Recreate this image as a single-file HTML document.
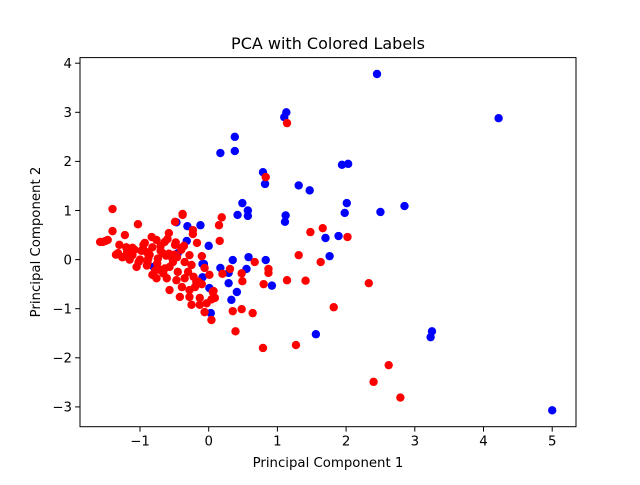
<!DOCTYPE html>
<html><head><meta charset="utf-8"><style>
body{margin:0;background:#fff}
svg text{font-family:"DejaVu Sans","Liberation Sans",sans-serif;fill:#000}
</style></head><body>
<svg id="chart" width="640" height="480" viewBox="0 0 640 480" xmlns="http://www.w3.org/2000/svg">
<rect width="640" height="480" fill="#fff"/>
<g id="points"></g>
<g id="axes"></g>
<text x="328" y="49" font-size="16" text-anchor="middle">PCA with Colored Labels</text>
<text x="328" y="467" font-size="13.3" text-anchor="middle">Principal Component 1</text>
<text x="0" y="0" font-size="13.3" text-anchor="middle" transform="translate(40,242) rotate(-90)">Principal Component 2</text>
</svg>
<script>
const xTicks=[-1,0,1,2,3,4,5];
const yTicks=[-3,-2,-1,0,1,2,3,4];
const blueX=[2.45,4.22,1.10,1.13,0.17,0.38,0.38,0.79,0.82,1.31,1.47,1.94,2.03,2.01,1.98,2.50,2.85,0.49,0.57,0.57,0.42,1.12,1.11,1.70,1.89,1.76,1.56,3.25,3.23,5.0,0.03,0.33,0.41,0.29,0.92,0.83,0.58,0.55,0.35,0.17,0.29,-0.09,-0.09,0.0,-0.12,-0.31,-0.32,0.01,-0.47,-0.45,-0.80,-0.07];
const blueY=[3.78,2.88,2.90,3.00,2.17,2.50,2.21,1.78,1.54,1.51,1.41,1.93,1.95,1.15,0.95,0.97,1.09,1.15,1.0,0.89,0.91,0.9,0.77,0.44,0.48,0.07,-1.52,-1.46,-1.58,-3.07,-1.09,-0.82,-0.66,-0.48,-0.53,-0.01,0.05,-0.19,-0.01,-0.17,-0.27,-0.36,-0.09,0.28,0.70,0.68,0.38,-0.58,0.76,0.13,-0.15,-0.09];
const redX=[1.14,0.83,0.19,0.15,0.16,-0.38,-0.23,1.48,1.66,2.02,1.31,1.63,0.67,0.87,0.87,1.14,1.41,2.33,0.80,0.49,0.48,0.20,0.31,1.82,0.64,0.48,0.35,0.39,0.79,1.27,0.04,0.07,0.04,2.62,2.40,2.79,
-1.40,-1.40,-1.54,-1.47,-1.03,-1.22,-0.38,-0.49,-0.58,-0.23,-0.17,-0.10,-0.83,-0.76,-0.93,-0.64,-0.49,-0.39,-1.32,-1.19,-1.11,-1.00,-1.15,-0.90,-0.89,-0.67,-0.54,-0.28,-0.25,-0.35,-0.57,-0.71,-0.61,-0.76,-0.47,-0.35,-0.06,0.01,-0.57,-0.39,-0.42,-0.28,-0.20,-0.28,-0.13,-0.25,-0.13,-0.03,-0.06,0.06,0.09,-1.25,-1.05,-0.82,-1.11,-1.58,-1.50,-1.30,-0.95,-0.70,-0.45,-0.15,-0.50,
-1.20,-1.08,-0.98,-0.86,-0.74,-0.62,-1.15,-1.02,-0.90,-0.78,-0.66,-0.95,-0.82,-0.70,-0.58,-0.46,-0.60,-0.48,-0.36,-0.30,-0.18,-0.40,-0.22,-0.10,-0.52,-1.35,-1.26,-0.88,-0.75,-0.64];
const redY=[2.78,1.68,0.86,0.70,0.38,0.93,0.52,0.56,0.64,0.46,0.09,-0.05,-0.05,-0.19,-0.27,-0.42,-0.43,-0.48,-0.50,-0.44,-0.28,-0.29,-0.19,-0.97,-1.09,-1.01,-1.05,-1.46,-1.80,-1.74,-1.23,-0.64,-0.81,-2.15,-2.49,-2.81,
1.03,0.58,0.36,0.40,0.72,0.50,0.91,0.77,0.54,0.60,0.34,0.07,0.46,0.40,0.34,0.36,0.30,0.24,0.13,0.15,0.09,0.00,0.0,0.15,-0.05,0.13,0.05,0.09,-0.11,-0.05,-0.15,-0.21,-0.38,-0.38,-0.42,-0.38,-0.17,-0.31,-0.62,-0.56,-0.76,-0.62,-0.56,-0.76,-0.78,-0.92,-0.92,-0.89,-1.07,-0.66,-0.78,0.05,-0.15,-0.31,0.24,0.36,0.38,0.30,0.20,0.28,-0.25,-0.45,0.10,
0.25,0.20,0.18,0.10,0.02,0.08,0.05,-0.05,-0.12,-0.22,-0.28,0.30,0.25,0.18,0.12,0.05,0.42,0.35,0.28,-0.25,-0.45,0.20,-0.35,-0.50,-0.05,0.10,0.05,0.02,-0.08,-0.18];
const L=80,R=576,T=57.6,B=426.7;
const sx=v=>208.7+v*68.7;
const sy=v=>259.6-v*49.1;
const NS="http://www.w3.org/2000/svg";
const pts=document.getElementById('points');
function drawSeries(xs,ys,color,name){
  for(let i=0;i<xs.length;i++){
    const c=document.createElementNS(NS,'circle');
    c.setAttribute('cx',sx(xs[i]));c.setAttribute('cy',sy(ys[i]));
    c.setAttribute('r',4.2);c.setAttribute('fill',color);
    
    
    pts.appendChild(c);
  }
}
drawSeries(blueX,blueY,'#0000ff','blue-point');
drawSeries(redX,redY,'#ff0000','red-point');
const ax=document.getElementById('axes');
let h='<rect x="'+L+'" y="'+T+'" width="'+(R-L)+'" height="'+(B-T)+'" fill="none" stroke="#000" stroke-width="1"/>';
xTicks.forEach(t=>{const x=sx(t);h+='<line x1="'+x+'" x2="'+x+'" y1="'+B+'" y2="'+(B+4.9)+'" stroke="#000"/><text x="'+x+'" y="'+(B+19)+'" font-size="13.3" text-anchor="middle">'+(t<0?'\u2212'+(-t):t)+'</text>';});
yTicks.forEach(t=>{const y=sy(t);h+='<line x1="'+(L-4.9)+'" x2="'+L+'" y1="'+y+'" y2="'+y+'" stroke="#000"/><text x="'+(L-8)+'" y="'+(y+4.8)+'" font-size="13.3" text-anchor="end">'+(t<0?'\u2212'+(-t):t)+'</text>';});
ax.innerHTML=h;
</script>
</body></html>
